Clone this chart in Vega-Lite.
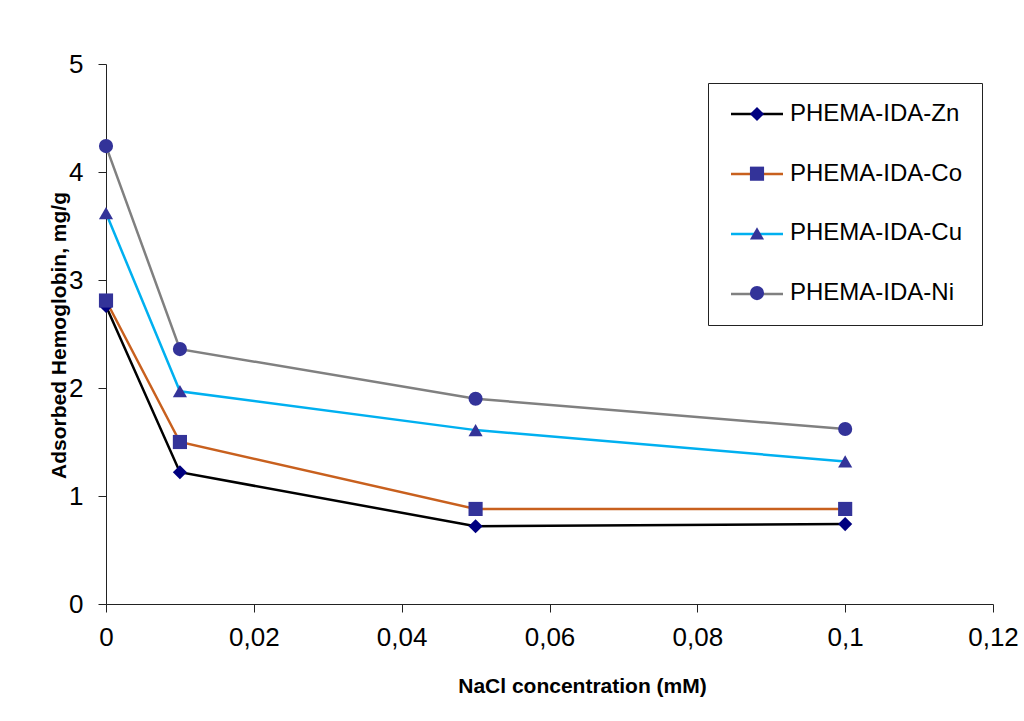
{
  "$schema": "https://vega.github.io/schema/vega-lite/v6.json",
  "width": 887,
  "height": 540,
  "autosize": {"type": "none"},
  "padding": {"left": 106, "top": 64, "right": 31, "bottom": 117},
  "background": "white",
  "config": {
    "font": "Liberation Sans",
    "view": {"stroke": null},
    "axis": {
      "grid": false,
      "domainColor": "#222",
      "tickColor": "#222",
      "domainWidth": 1,
      "tickWidth": 1,
      "labelColor": "#000",
      "labelFont": "Liberation Sans",
      "labelFontSize": 26,
      "titleFont": "Liberation Sans",
      "titleFontSize": 21,
      "titleFontWeight": "bold",
      "titleColor": "#000"
    }
  },
  "data": {
    "values": [
      {"conc": 0, "series": "PHEMA-IDA-Zn", "adsorbed": 2.76},
      {"conc": 0.01, "series": "PHEMA-IDA-Zn", "adsorbed": 1.22},
      {"conc": 0.05, "series": "PHEMA-IDA-Zn", "adsorbed": 0.72},
      {"conc": 0.1, "series": "PHEMA-IDA-Zn", "adsorbed": 0.74},
      {"conc": 0, "series": "PHEMA-IDA-Co", "adsorbed": 2.81},
      {"conc": 0.01, "series": "PHEMA-IDA-Co", "adsorbed": 1.5},
      {"conc": 0.05, "series": "PHEMA-IDA-Co", "adsorbed": 0.88},
      {"conc": 0.1, "series": "PHEMA-IDA-Co", "adsorbed": 0.88},
      {"conc": 0, "series": "PHEMA-IDA-Cu", "adsorbed": 3.62},
      {"conc": 0.01, "series": "PHEMA-IDA-Cu", "adsorbed": 1.97},
      {"conc": 0.05, "series": "PHEMA-IDA-Cu", "adsorbed": 1.61},
      {"conc": 0.1, "series": "PHEMA-IDA-Cu", "adsorbed": 1.32},
      {"conc": 0, "series": "PHEMA-IDA-Ni", "adsorbed": 4.24},
      {"conc": 0.01, "series": "PHEMA-IDA-Ni", "adsorbed": 2.36},
      {"conc": 0.05, "series": "PHEMA-IDA-Ni", "adsorbed": 1.9},
      {"conc": 0.1, "series": "PHEMA-IDA-Ni", "adsorbed": 1.62}
    ]
  },
  "encoding": {
    "x": {
      "field": "conc",
      "type": "quantitative",
      "scale": {"domain": [0, 0.12], "nice": false, "zero": true},
      "axis": {
        "title": "NaCl concentration (mM)",
        "values": [0, 0.02, 0.04, 0.06, 0.08, 0.1, 0.12],
        "format": ".2~f",
        "labelExpr": "replace(datum.label, '.', ',')",
        "tickSize": 8,
        "labelPadding": 12,
        "labelFlush": false,
        "labelOverlap": false,
        "titleX": 476,
        "titleY": 88,
        "titleAlign": "center",
        "titleBaseline": "alphabetic"
      }
    },
    "y": {
      "field": "adsorbed",
      "type": "quantitative",
      "scale": {"domain": [0, 5], "nice": false},
      "axis": {
        "title": "Adsorbed Hemoglobin, mg/g",
        "values": [0, 1, 2, 3, 4, 5],
        "tickSize": 8,
        "labelPadding": 15,
        "labelFlush": false,
        "titleX": -41,
        "titleY": 271,
        "titleAngle": -90,
        "titleAlign": "center",
        "titleBaseline": "alphabetic"
      }
    }
  },
  "layer": [
    {
      "mark": {"type": "line", "strokeWidth": 2.5},
      "encoding": {
        "stroke": {
          "field": "series",
          "type": "nominal",
          "scale": {
            "domain": ["PHEMA-IDA-Zn", "PHEMA-IDA-Co", "PHEMA-IDA-Cu", "PHEMA-IDA-Ni"],
            "range": ["#000000", "#C8601E", "#00B0F0", "#808080"]
          },
          "legend": {
            "title": null,
            "orient": "none",
            "legendX": 623.5,
            "legendY": 22.5,
            "padding": 0,
            "rowPadding": 20,
            "symbolType": "stroke",
            "symbolSize": 2704,
            "symbolStrokeWidth": 2.5,
            "labelExpr": "''",
            "labelFontSize": 24,
            "zindex": 1
          }
        }
      }
    },
    {
      "mark": {"type": "point", "filled": true, "size": 200, "opacity": 1},
      "encoding": {
        "fill": {
          "field": "series",
          "type": "nominal",
          "sort": ["PHEMA-IDA-Zn", "PHEMA-IDA-Co", "PHEMA-IDA-Cu", "PHEMA-IDA-Ni"],
          "scale": {"range": ["#000080", "#333399", "#333399", "#333399"]},
          "legend": null
        },
        "shape": {
          "field": "series",
          "type": "nominal",
          "sort": ["PHEMA-IDA-Zn", "PHEMA-IDA-Co", "PHEMA-IDA-Cu", "PHEMA-IDA-Ni"],
          "scale": {"range": ["diamond", "square", "triangle-up", "circle"]},
          "legend": {
            "title": null,
            "orient": "none",
            "legendX": 602,
            "legendY": 19,
            "padding": 19,
            "rowPadding": 35.7,
            "strokeColor": "#222",
            "symbolSize": 200,
            "symbolStrokeWidth": 0,
            "symbolFillColor": "#333399",
            "symbolOpacity": 1,
            "symbolOffset": 18,
            "labelOffset": 21,
            "labelFont": "Liberation Sans",
            "labelFontSize": 24,
            "labelLimit": 400,
            "labelColor": "#000",
            "zindex": 2,
            "encode": {
              "symbols": {
                "update": {
                  "fill": {"signal": "datum.value === 'PHEMA-IDA-Zn' ? '#000080' : '#333399'"}
                }
              }
            }
          }
        }
      }
    }
  ]
}
